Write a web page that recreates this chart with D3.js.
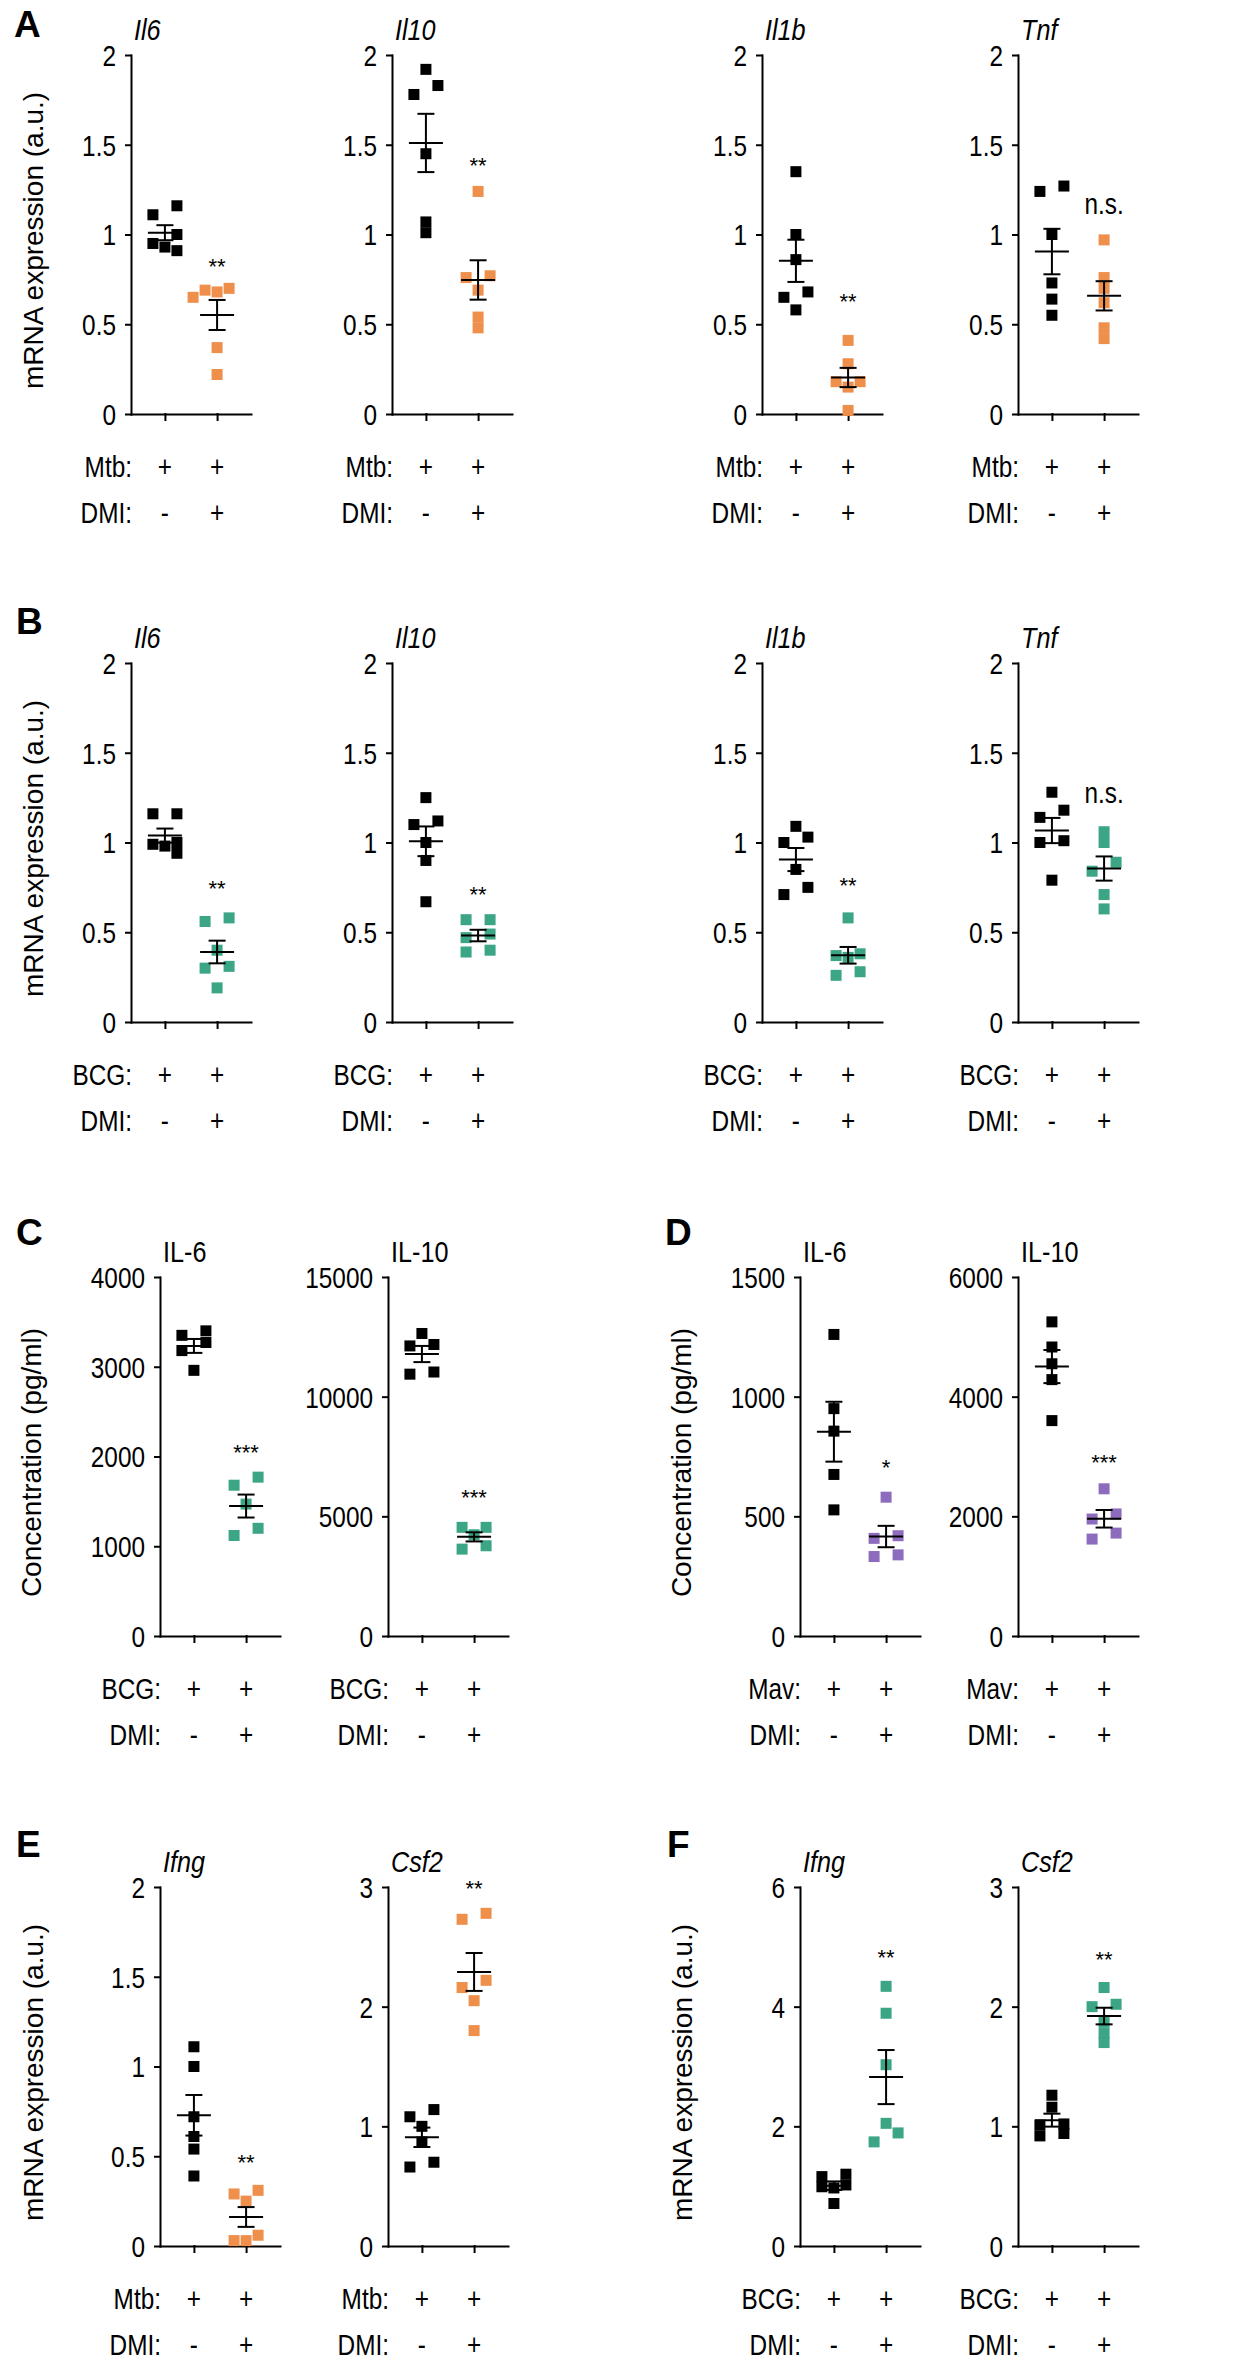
<!DOCTYPE html>
<html>
<head>
<meta charset="utf-8">
<script src="https://cdnjs.cloudflare.com/ajax/libs/d3/7.8.5/d3.min.js"></script>
<style>
  body { margin: 0; background: #fff; }
  svg { display: block; font-family: "Liberation Sans", Arial, sans-serif; }
</style>
</head>
<body>
<svg></svg>
<script>
// DATA

const A_IL6_CTRL  = [1.16, 1.11, 1.00, 0.95, 0.93, 0.91];
const A_IL6_DMI   = [0.70, 0.69, 0.68, 0.65, 0.37, 0.22];
const A_IL10_CTRL = [1.92, 1.83, 1.78, 1.45, 1.07, 1.01];
const A_IL10_DMI  = [1.24, 0.77, 0.76, 0.69, 0.54, 0.48];
const A_IL1B_CTRL = [1.35, 1.00, 0.86, 0.68, 0.65, 0.58];
const A_IL1B_DMI  = [0.41, 0.28, 0.18, 0.18, 0.15, 0.02];
const A_TNF_CTRL  = [1.27, 1.24, 1.00, 0.73, 0.64, 0.55];
const A_TNF_DMI   = [0.97, 0.76, 0.70, 0.62, 0.48, 0.42];

const B_IL6_CTRL  = [1.16, 1.16, 1.00, 0.99, 0.98, 0.94];
const B_IL6_DMI   = [0.58, 0.56, 0.40, 0.31, 0.30, 0.19];
const B_IL10_CTRL = [1.25, 1.12, 1.10, 1.00, 0.90, 0.67];
const B_IL10_DMI  = [0.57, 0.57, 0.49, 0.47, 0.40, 0.39];
const B_IL1B_CTRL = [1.09, 1.03, 1.00, 0.85, 0.75, 0.71];
const B_IL1B_DMI  = [0.58, 0.38, 0.37, 0.36, 0.28, 0.26];
const B_TNF_CTRL  = [1.28, 1.18, 1.14, 1.01, 1.00, 0.79];
const B_TNF_DMI   = [1.06, 1.00, 0.89, 0.84, 0.71, 0.63];

const C_IL6_CTRL  = [3400, 3350, 3270, 3180, 2960];
const C_IL6_DMI   = [1770, 1680, 1470, 1200, 1120];
const C_IL10_CTRL = [12640, 12180, 12120, 11030, 10940];
const C_IL10_DMI  = [4540, 4540, 4230, 3770, 3630];

const D_IL6_CTRL  = [1260, 950, 856, 675, 527];
const D_IL6_DMI   = [580, 419, 408, 339, 332];
const D_IL10_CTRL = [5250, 4830, 4550, 4285, 3600];
const D_IL10_DMI  = [2460, 2040, 1955, 1720, 1620];

const E_IFNG_CTRL = [1.11, 1.00, 0.72, 0.61, 0.54, 0.39];
const E_IFNG_DMI  = [0.31, 0.29, 0.25, 0.06, 0.03, 0.03];
const E_CSF2_CTRL = [1.14, 1.08, 1.00, 0.87, 0.70, 0.66];
const E_CSF2_DMI  = [2.78, 2.73, 2.22, 2.16, 2.05, 1.80];

const F_IFNG_CTRL = [1.20, 1.16, 1.02, 0.99, 0.97, 0.71];
const F_IFNG_DMI  = [4.34, 3.89, 3.03, 2.05, 1.89, 1.74];
const F_CSF2_CTRL = [1.26, 1.16, 1.02, 1.01, 0.94, 0.92];
const F_CSF2_DMI  = [2.16, 2.02, 2.00, 1.87, 1.78, 1.70];

// tick values
const TICKS_REL   = [0, 0.5, 1, 1.5, 2];
const TICKS_C_IL6 = [0, 1000, 2000, 3000, 4000];
const TICKS_C_IL10 = [0, 5000, 10000, 15000];
const TICKS_D_IL6 = [0, 500, 1000, 1500];
const TICKS_D_IL10 = [0, 2000, 4000, 6000];
const TICKS_3     = [0, 1, 2, 3];
const TICKS_6     = [0, 2, 4, 6];

// titles, significance marks and where they sit (in data units)
const GENES_AB  = ["Il6", "Il10", "Il1b", "Tnf"];
const CYTOKINES = ["IL-6", "IL-10"];
const GENES_EF  = ["Ifng", "Csf2"];
const SIG_A = ["**", "**", "**", "n.s."],  SIG_A_Y = [0.85, 1.41, 0.655, 1.157];
const SIG_B = ["**", "**", "**", "n.s."],  SIG_B_Y = [0.77, 0.74, 0.79, 1.263];
const SIG_C = ["***", "***"],              SIG_C_Y = [2100, 6000];
const SIG_D = ["*", "***"],                SIG_D_Y = [726, 2990];
const SIG_E = ["**", "**"],                SIG_E_Y = [0.493, 3.03];
const SIG_F = ["**", "**"],                SIG_F_Y = [4.91, 2.44];

const SIGNS = [["+", "+"], ["-", "+"]];
const MRNA_LABEL = "mRNA expression (a.u.)";
const CONC_LABEL = "Concentration (pg/ml)";

// STYLE / LAYOUT

const W = 1250, H = 2361;
const ORANGE = "#ee8f4c", GREEN = "#3ba586", PURPLE = "#8d6cbd";
const PLOT_H = 359, PLOT_W = 120;
const SIZE = 11, STEP = 12;
const NARROW = 0.84;

const svg = d3.select("svg").attr("width", W).attr("height", H);

const panels = [
  {letter: "A", lx: 14, ly: 37, top: 55, axes: [131, 392, 762, 1018], labelX: 33, ylab: MRNA_LABEL,
   titles: GENES_AB, italic: true, color: ORANGE, infect: "Mtb:",
   ticks: [TICKS_REL, TICKS_REL, TICKS_REL, TICKS_REL],
   ctrl: [A_IL6_CTRL, A_IL10_CTRL, A_IL1B_CTRL, A_TNF_CTRL],
   dmi:  [A_IL6_DMI, A_IL10_DMI, A_IL1B_DMI, A_TNF_DMI], sig: SIG_A, sigY: SIG_A_Y},
  {letter: "B", lx: 16, ly: 634, top: 663, axes: [131, 392, 762, 1018], labelX: 33, ylab: MRNA_LABEL,
   titles: GENES_AB, italic: true, color: GREEN, infect: "BCG:",
   ticks: [TICKS_REL, TICKS_REL, TICKS_REL, TICKS_REL],
   ctrl: [B_IL6_CTRL, B_IL10_CTRL, B_IL1B_CTRL, B_TNF_CTRL],
   dmi:  [B_IL6_DMI, B_IL10_DMI, B_IL1B_DMI, B_TNF_DMI], sig: SIG_B, sigY: SIG_B_Y},
  {letter: "C", lx: 16, ly: 1245, top: 1277, axes: [160, 388], labelX: 31, ylab: CONC_LABEL,
   titles: CYTOKINES, italic: false, color: GREEN, infect: "BCG:",
   ticks: [TICKS_C_IL6, TICKS_C_IL10],
   ctrl: [C_IL6_CTRL, C_IL10_CTRL], dmi: [C_IL6_DMI, C_IL10_DMI], sig: SIG_C, sigY: SIG_C_Y},
  {letter: "D", lx: 665, ly: 1245, top: 1277, axes: [800, 1018], labelX: 681, ylab: CONC_LABEL,
   titles: CYTOKINES, italic: false, color: PURPLE, infect: "Mav:",
   ticks: [TICKS_D_IL6, TICKS_D_IL10],
   ctrl: [D_IL6_CTRL, D_IL10_CTRL], dmi: [D_IL6_DMI, D_IL10_DMI], sig: SIG_D, sigY: SIG_D_Y},
  {letter: "E", lx: 16, ly: 1857, top: 1887, axes: [160, 388], labelX: 33, ylab: MRNA_LABEL,
   titles: GENES_EF, italic: true, color: ORANGE, infect: "Mtb:",
   ticks: [TICKS_REL, TICKS_3],
   ctrl: [E_IFNG_CTRL, E_CSF2_CTRL], dmi: [E_IFNG_DMI, E_CSF2_DMI], sig: SIG_E, sigY: SIG_E_Y},
  {letter: "F", lx: 667, ly: 1857, top: 1887, axes: [800, 1018], labelX: 682, ylab: MRNA_LABEL,
   titles: GENES_EF, italic: true, color: GREEN, infect: "BCG:",
   ticks: [TICKS_6, TICKS_3],
   ctrl: [F_IFNG_CTRL, F_CSF2_CTRL], dmi: [F_IFNG_DMI, F_CSF2_DMI], sig: SIG_F, sigY: SIG_F_Y}
];

// prism-ish column placement for overlapping points
function jitter(vals, y) {
  const slot = new Array(vals.length);
  const placed = [];
  const hits = (s, py, skip) => placed.filter(j => j !== skip && slot[j] === s && Math.abs(y(vals[j]) - py) < 9.5);
  const order = vals.map((v, i) => i).sort((a, b) => vals[b] - vals[a]);
  order.forEach(i => {
    const py = y(vals[i]);
    const h0 = hits(0, py);
    if (!h0.length) { slot[i] = 0; }
    else if (h0.length === 1 && !hits(-1, py).length && !hits(1, y(vals[h0[0]]), h0[0]).length) {
      slot[h0[0]] = 1; slot[i] = -1;
    } else {
      for (const s of [-1, 1, -2, 2]) {
        if (!hits(s, py).length) { slot[i] = s; break; }
      }
      if (slot[i] === undefined) slot[i] = 0;
    }
    placed.push(i);
  });
  return slot;
}

function drawPlot(p, k) {
  const ax = p.axes[k], top = p.top, bottom = top + PLOT_H;
  const ticks = p.ticks[k];
  const y = d3.scaleLinear().domain([0, d3.max(ticks)]).range([bottom, top]);
  const x = d3.scalePoint().domain([0, 1]).range([ax, ax + PLOT_W]).padding(0.65);
  const g = svg.append("g");

  // title
  g.append("text")
    .attr("class", "cond")
    .attr("x", ax + 3).attr("y", top - 15)
    .attr("font-size", 30)
    .attr("font-style", p.italic ? "italic" : "normal")
    .text(p.titles[k]);

  // axes
  const yAxis = g.append("g").attr("transform", `translate(${ax},0)`)
    .call(d3.axisLeft(y).tickValues(ticks).tickSize(5).tickSizeOuter(0).tickPadding(10).tickFormat(d => String(d)));
  const xAxis = g.append("g").attr("transform", `translate(0,${bottom})`)
    .call(d3.axisBottom(x).tickSize(6).tickSizeOuter(0).tickFormat(""));
  [yAxis, xAxis].forEach(a => {
    a.attr("font-family", null).attr("font-size", null);
    a.selectAll("path, line").attr("stroke", "#000").attr("stroke-width", 2).attr("stroke-linecap", "square");
  });
  yAxis.selectAll("text").attr("class", "cond").attr("font-size", 29).attr("fill", "#000").attr("dy", "0.36em");

  // points
  const groups = [{vals: p.ctrl[k], fill: "#000", cat: 0}, {vals: p.dmi[k], fill: p.color, cat: 1}];
  groups.forEach(grp => {
    const slots = jitter(grp.vals, y);
    g.append("g").selectAll("rect")
      .data(grp.vals.map((v, i) => ({v: v, s: slots[i]})))
      .join("rect")
      .attr("x", d => x(grp.cat) + d.s * STEP - SIZE / 2)
      .attr("y", d => y(d.v) - SIZE / 2)
      .attr("width", SIZE).attr("height", SIZE)
      .attr("fill", grp.fill);
  });

  // mean +- sem
  groups.forEach(grp => {
    const m = d3.mean(grp.vals);
    const sem = d3.deviation(grp.vals) / Math.sqrt(grp.vals.length);
    const cx = x(grp.cat);
    const eb = g.append("g").attr("stroke", "#000").attr("stroke-width", 2);
    eb.append("line").attr("x1", cx - 17).attr("x2", cx + 17).attr("y1", y(m)).attr("y2", y(m));
    eb.append("line").attr("x1", cx).attr("x2", cx).attr("y1", y(m - sem)).attr("y2", y(m + sem));
    [m - sem, m + sem].forEach(v => {
      eb.append("line").attr("x1", cx - 8.5).attr("x2", cx + 8.5).attr("y1", y(v)).attr("y2", y(v));
    });
  });

  // significance
  const sig = p.sig[k];
  const isNs = sig === "n.s.";
  g.append("text")
    .attr("class", isNs ? "cond" : null)
    .attr("x", x(1)).attr("y", y(p.sigY[k]) + (isNs ? 8 : 12.5))
    .attr("text-anchor", "middle")
    .attr("font-size", isNs ? 29 : 22)
    .text(sig);

  // treatment rows
  [p.infect, "DMI:"].forEach((lab, r) => {
    const by = bottom + 63 + r * 46;
    g.append("text").attr("class", "cond")
      .attr("x", ax + 1).attr("y", by).attr("text-anchor", "end")
      .attr("font-size", 29).text(lab);
    SIGNS[r].forEach((s, c) => {
      g.append("text").attr("class", "cond")
        .attr("x", x(c)).attr("y", by).attr("text-anchor", "middle")
        .attr("font-size", 29).text(s);
    });
  });
}

panels.forEach(p => {
  svg.append("text")
    .attr("x", p.lx).attr("y", p.ly)
    .attr("font-size", 37).attr("font-weight", "bold")
    .text(p.letter);

  svg.append("text")
    .attr("transform", `translate(${p.labelX},${p.top + PLOT_H / 2 + 6}) rotate(-90)`)
    .attr("text-anchor", "middle").attr("dominant-baseline", "central")
    .attr("font-size", 28)
    .text(p.ylab);

  p.axes.forEach((ax, k) => drawPlot(p, k));
});

// narrow look of the original lettering
svg.selectAll("text.cond").each(function() {
  const w = this.getComputedTextLength();
  d3.select(this).attr("textLength", w * NARROW).attr("lengthAdjust", "spacingAndGlyphs");
});
</script>
</body>
</html>
